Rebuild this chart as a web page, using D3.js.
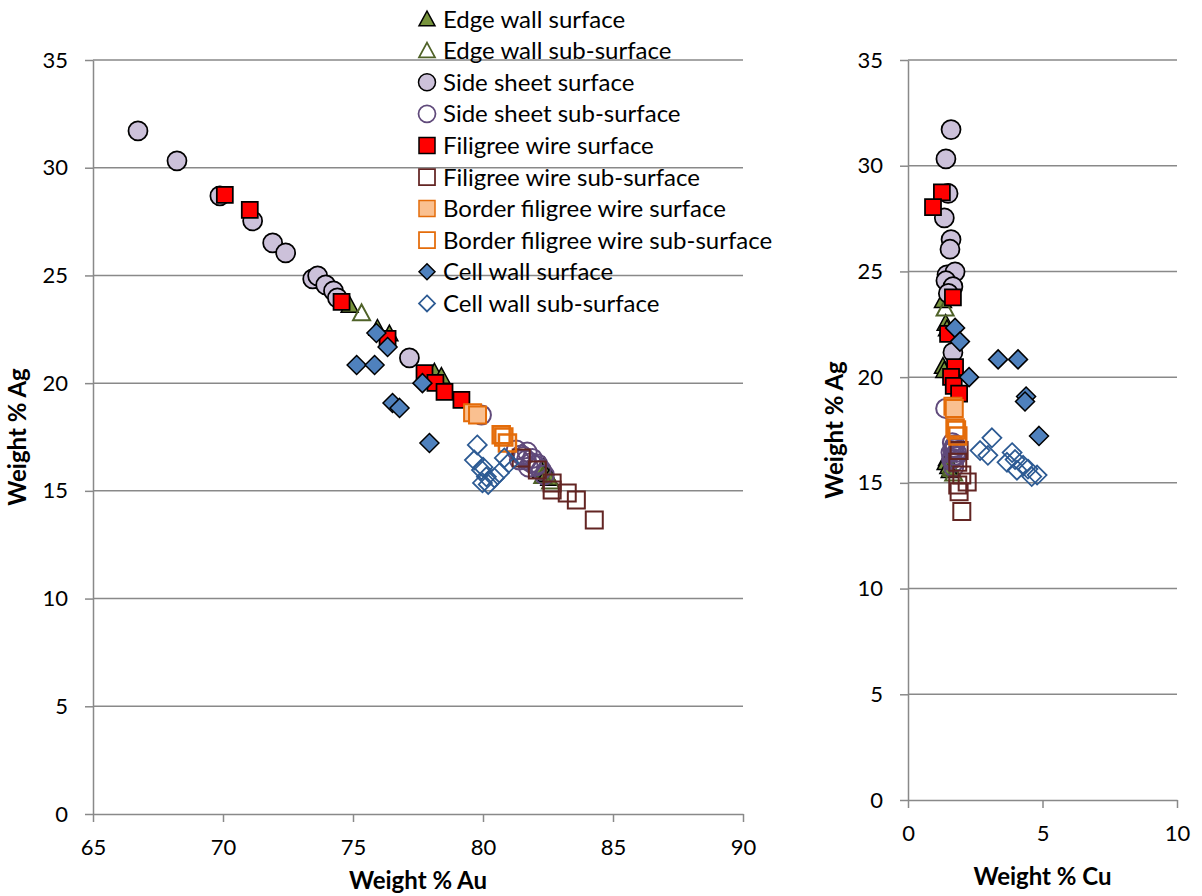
<!DOCTYPE html>
<html lang="en">
<head>
<meta charset="utf-8">
<title></title>
<script src="https://d3js.org/d3.v7.min.js"></script>
<style type="text/css">
  body { margin: 0; background: #fff; }
  text { font-family: Lato, "Open Sans", sans-serif; fill: #000; }
</style>
</head>
<body>

<svg width="1202" height="896" id="svg1"></svg>

<script>

// each point: [Au %, Cu %, Ag %]
var edgeWallSurface = [
  [74.87, 1.30, 23.63], [75.94, 1.40, 22.56], [76.40, 1.45, 22.30], [78.13, 1.30, 20.52],
  [78.40, 1.35, 20.33], [82.36, 1.45, 16.16], [82.24, 1.40, 15.97], [82.43, 1.50, 15.78],
  [82.55, 1.55, 15.60]
];
var edgeWallSub = [
  [75.33, 1.38, 23.26], [82.30, 1.60, 15.70], [82.60, 1.70, 15.45]
];
var sideSheetSurface = [
  [66.73, 1.60, 31.71], [68.23, 1.41, 30.32], [69.88, 1.49, 28.69], [71.14, 1.35, 27.53],
  [71.91, 1.60, 26.51], [72.41, 1.56, 26.05], [73.45, 1.45, 24.84], [73.64, 1.75, 24.98],
  [73.95, 1.41, 24.56], [74.25, 1.67, 24.28], [74.40, 1.50, 23.96], [77.17, 1.67, 21.17]
];
var sideSheetSub = [
  [79.94, 1.40, 18.52], [81.28, 1.65, 16.90], [81.70, 1.75, 16.80], [81.47, 1.70, 16.67],
  [81.67, 1.60, 16.43], [81.40, 1.80, 16.43], [81.86, 1.75, 16.30], [82.05, 1.65, 16.16],
  [82.24, 1.70, 15.97], [82.36, 1.70, 15.74], [81.55, 1.72, 16.60], [81.90, 1.68, 16.50],
  [82.10, 1.78, 16.25], [81.75, 1.62, 16.10]
];
var filigreeSurface = [
  [70.07, 1.26, 28.74], [71.03, 0.93, 28.04], [74.56, 1.67, 23.77], [76.33, 1.49, 22.05],
  [77.75, 1.75, 20.47], [78.17, 1.60, 20.01], [78.52, 1.70, 19.59], [79.17, 1.90, 19.22]
];
var filigreeSub = [
  [81.47, 1.90, 16.53], [82.09, 1.85, 15.97], [82.66, 2.00, 15.37], [82.66, 2.20, 15.04],
  [83.24, 1.85, 14.90], [83.59, 1.90, 14.58], [84.28, 2.00, 13.65]
];
var borderSurface = [
  [79.60, 1.67, 18.62], [79.79, 1.72, 18.52]
];
var borderSub = [
  [80.70, 1.75, 17.60], [80.80, 1.80, 17.50], [80.94, 1.85, 17.22]
];
var cellWallSurface = [
  [75.90, 1.75, 22.33], [76.33, 1.93, 21.68], [75.14, 3.35, 20.84], [75.83, 4.09, 20.84],
  [77.67, 2.27, 20.00], [76.52, 4.39, 19.08], [76.79, 4.35, 18.85], [77.94, 4.87, 17.22]
];
var cellWallSub = [
  [79.78, 3.12, 17.13], [80.82, 2.68, 16.53], [79.67, 3.87, 16.43], [81.00, 2.97, 16.30],
  [80.00, 3.98, 16.10], [79.94, 3.68, 15.97], [80.63, 4.28, 15.83], [80.13, 4.46, 15.65],
  [80.44, 4.05, 15.60], [79.98, 4.80, 15.37], [80.20, 4.60, 15.30]
];

var seriesNames = ["Edge wall surface", "Edge wall sub-surface", "Side sheet surface",
  "Side sheet sub-surface", "Filigree wire surface", "Filigree wire sub-surface",
  "Border filigree wire surface", "Border filigree wire sub-surface",
  "Cell wall surface", "Cell wall sub-surface"];

var agTicks = [0, 5, 10, 15, 20, 25, 30, 35];
var auTicks = [65, 70, 75, 80, 85, 90];
var cuTicks = [0, 5, 10];

// marker styles, in legend order
var series = [
  {data: edgeWallSurface,  shape: "triangle", size: 17, fill: "#77933C", stroke: "#000", sw: 1.5},
  {data: edgeWallSub,      shape: "triangle", size: 17, fill: "none",    stroke: "#4F6228", sw: 2},
  {data: sideSheetSurface, shape: "circle",   size: 19, fill: "#CCC1DA", stroke: "#000", sw: 1.75},
  {data: sideSheetSub,     shape: "circle",   size: 19, fill: "none",    stroke: "#604A7B", sw: 2},
  {data: filigreeSurface,  shape: "square",   size: 16, fill: "#FF0000", stroke: "#000", sw: 1.75},
  {data: filigreeSub,      shape: "square",   size: 17, fill: "none",    stroke: "#632523", sw: 2},
  {data: borderSurface,    shape: "square",   size: 17, fill: "#FAC090", stroke: "#E46C0A", sw: 2},
  {data: borderSub,        shape: "square",   size: 17, fill: "none",    stroke: "#E46C0A", sw: 2.5},
  {data: cellWallSurface,  shape: "diamond",  size: 19, fill: "#4F81BD", stroke: "#000", sw: 1.5},
  {data: cellWallSub,      shape: "diamond",  size: 19, fill: "none",    stroke: "#2C5A93", sw: 1.75}
];
series.forEach(function(s, i) { s.name = seriesNames[i]; });

function markerPath(shape, s) {
  var h = s / 2;
  if (shape == "square") return "M" + (-h) + "," + (-h) + "h" + s + "v" + s + "h" + (-s) + "Z";
  if (shape == "diamond") return "M0," + (-h) + "L" + h + ",0L0," + h + "L" + (-h) + ",0Z";
  if (shape == "triangle") return "M0," + (-h) + "L" + h + "," + (h * 0.85) + "L" + (-h) + "," + (h * 0.85) + "Z";
  return "M" + h + ",0A" + h + "," + h + " 0 1,1 " + (-h) + ",0A" + h + "," + h + " 0 1,1 " + h + ",0Z";
}

var svg = d3.select("#svg1");
var gridColor = "#898989";

function drawPanel(xScale, yScale, xTicks, xIndex, xTitle, yTitleX, titleY) {
  var g = svg.append("g");
  var x0 = xScale.range()[0], x1 = xScale.range()[1];
  var yBottom = yScale.range()[0];

  // gridlines
  g.selectAll(".grid").data(agTicks.filter(function(d) { return d > 0; })).enter()
    .append("line")
    .attr("x1", x0).attr("x2", x1)
    .attr("y1", function(d) { return yScale(d); })
    .attr("y2", function(d) { return yScale(d); })
    .attr("stroke", gridColor).attr("stroke-width", 1.5);

  var yAxis = d3.axisLeft(yScale).tickValues(agTicks).tickSize(8).tickPadding(17).tickSizeOuter(0);
  var xAxis = d3.axisBottom(xScale).tickValues(xTicks).tickSize(8).tickPadding(17).tickSizeOuter(0);

  var ya = g.append("g").attr("transform", `translate(${x0}, 0)`).call(yAxis);
  var xa = g.append("g").attr("transform", `translate(0, ${yBottom})`).call(xAxis);
  [ya, xa].forEach(function(a) {
    a.selectAll("path, line").attr("stroke", gridColor).attr("stroke-width", 1.5);
    a.selectAll("text").attr("font-size", 22).attr("font-family", "Lato").attr("fill", "#000");
  });

  g.append("text")
    .attr("x", (x0 + x1) / 2).attr("y", titleY)
    .attr("text-anchor", "middle").attr("font-size", 24).attr("font-weight", "bold")
    .text(xTitle);
  g.append("text")
    .attr("transform", `translate(${yTitleX}, ${(yScale.range()[0] + yScale.range()[1]) / 2}) rotate(-90)`)
    .attr("text-anchor", "middle").attr("font-size", 24).attr("font-weight", "bold")
    .text("Weight % Ag");

  series.forEach(function(s) {
    g.append("g").selectAll("path").data(s.data).enter().append("path")
      .attr("d", markerPath(s.shape, s.size))
      .attr("transform", function(d) { return `translate(${xScale(d[xIndex])}, ${yScale(d[2])})`; })
      .attr("fill", s.fill).attr("stroke", s.stroke).attr("stroke-width", s.sw)
      .attr("stroke-linejoin", "miter");
  });
}

var xAu = d3.scaleLinear().domain([65, 90]).range([93, 743]);
var yAgLeft = d3.scaleLinear().domain([0, 35]).range([814, 60]);
drawPanel(xAu, yAgLeft, auTicks, 0, "Weight % Au", 26, 889);

var xCu = d3.scaleLinear().domain([0, 10]).range([908, 1177]);
var yAgRight = d3.scaleLinear().domain([0, 35]).range([800, 60]);
drawPanel(xCu, yAgRight, cuTicks, 1, "Weight % Cu", 843, 885);

// legend
var legend = svg.append("g").attr("transform", "translate(427, 19)");
var rows = legend.selectAll(".row").data(series).enter().append("g")
  .attr("transform", function(d, i) { return `translate(0, ${i * 31.6})`; });
rows.append("path")
  .attr("d", function(d) { return markerPath(d.shape, d.shape == "circle" ? 17 : 16); })
  .attr("fill", function(d) { return d.fill; })
  .attr("stroke", function(d) { return d.stroke; })
  .attr("stroke-width", function(d) { return d.fill == "none" ? 1.75 : 1.5; });
rows.append("text")
  .attr("x", 16).attr("y", 0).attr("dy", "0.36em")
  .attr("font-size", 24)
  .text(function(d) { return d.name; });

</script>

</body>
</html>
